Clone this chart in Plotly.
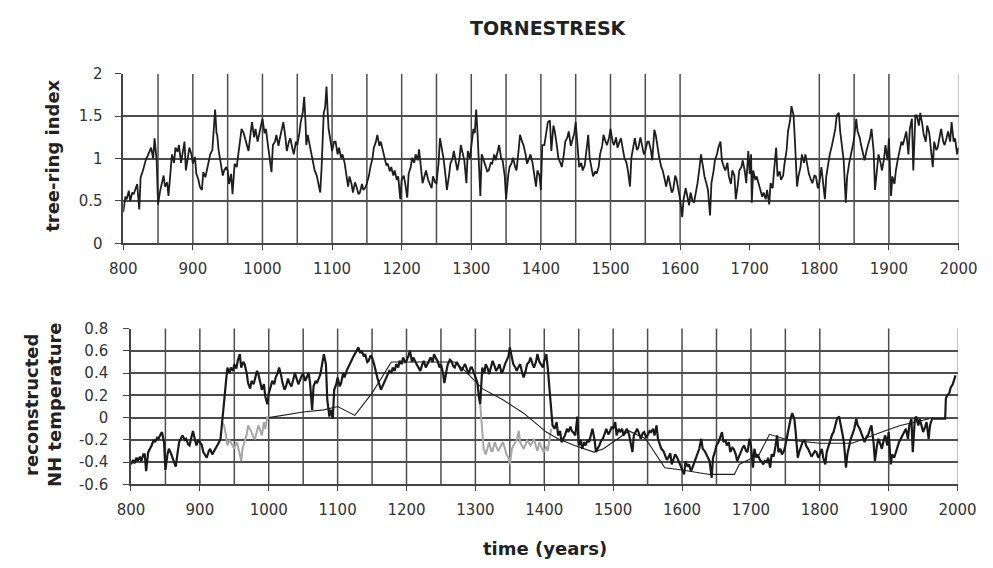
import plotly.graph_objects as go

# ---------------------------------------------------------------- data
# Tornetrask tree-ring index (annual chronology, read at ~2-3 year steps)
ring_years = [
    800, 803, 805, 808, 810, 813, 815, 818, 820, 823, 825, 828, 830, 833, 835, 838, 840, 843, 845, 848,
    850, 853, 855, 858, 860, 863, 865, 868, 870, 873, 875, 878, 880, 883, 885, 888, 890, 893, 895, 898,
    900, 903, 905, 908, 910, 913, 915, 918, 920, 923, 925, 928, 930, 932, 934, 935, 937, 940, 943, 945,
    948, 950, 952, 955, 957, 960, 963, 965, 968, 970, 973, 975, 978, 980, 983, 985, 988, 990, 993, 995, 998,
    1000, 1003, 1005, 1008, 1010, 1013, 1015, 1018, 1020, 1023, 1025, 1028, 1030, 1033, 1035, 1038, 1040,
    1043, 1045, 1048, 1050, 1053, 1055, 1058, 1060, 1062, 1063, 1065, 1068, 1070, 1073, 1075, 1078, 1080,
    1083, 1085, 1088, 1090, 1092, 1094, 1095, 1098,
    1100, 1103, 1105, 1108, 1110, 1113, 1115, 1118, 1120, 1123, 1125, 1128, 1130, 1133, 1135, 1138, 1140,
    1143, 1145, 1148, 1150, 1153, 1155, 1158, 1160, 1163, 1165, 1168, 1170, 1173, 1175, 1178, 1180, 1183,
    1185, 1188, 1190, 1193, 1195, 1198,
    1200, 1203, 1205, 1208, 1210, 1213, 1215, 1218, 1220, 1223, 1225, 1228, 1230, 1233, 1235, 1238, 1240,
    1243, 1245, 1248, 1250, 1253, 1255, 1258, 1260, 1263, 1265, 1268, 1270, 1273, 1275, 1278, 1280, 1283,
    1285, 1288, 1290, 1293, 1295, 1298,
    1300, 1303, 1305, 1307, 1309, 1310, 1313, 1315, 1318, 1320, 1323, 1325, 1328, 1330, 1333, 1335, 1338,
    1340, 1343, 1345, 1348, 1350, 1353, 1355, 1358, 1360, 1363, 1365, 1368, 1370, 1373, 1375, 1378, 1380,
    1383, 1385, 1388, 1390, 1393, 1395, 1398,
    1400, 1402, 1405, 1408, 1410, 1413, 1415, 1418, 1420, 1423, 1425, 1428, 1430, 1433, 1435, 1438, 1440,
    1443, 1445, 1448, 1450, 1453, 1455, 1458, 1460, 1463, 1465, 1468, 1470, 1473, 1475, 1478, 1480, 1483,
    1485, 1488, 1490, 1493, 1495, 1498,
    1500, 1503, 1505, 1508, 1510, 1513, 1515, 1518, 1520, 1523, 1525, 1528, 1530, 1533, 1535, 1538, 1540,
    1543, 1545, 1548, 1550, 1553, 1555, 1558, 1560, 1563, 1565, 1568, 1570, 1573, 1575, 1578, 1580, 1583,
    1585, 1588, 1590, 1593, 1595, 1598,
    1600, 1603, 1605, 1608, 1610, 1613, 1615, 1618, 1620, 1623, 1625, 1628, 1630, 1633, 1635, 1638, 1640,
    1643, 1645, 1648, 1650, 1653, 1655, 1658, 1660, 1663, 1665, 1668, 1670, 1673, 1675, 1678, 1680, 1683,
    1685, 1688, 1690, 1693, 1695, 1698,
    1700, 1702, 1703, 1705, 1708, 1710, 1713, 1715, 1718, 1720, 1723, 1725, 1728, 1730, 1733, 1735, 1738,
    1740, 1743, 1745, 1748, 1750, 1753, 1755, 1758, 1760, 1763, 1765, 1768, 1770, 1773, 1775, 1778, 1780,
    1783, 1785, 1788, 1790, 1793, 1795, 1798,
    1800, 1803, 1805, 1808, 1810, 1813, 1815, 1818, 1820, 1823, 1825, 1828, 1830, 1833, 1835, 1838, 1840,
    1843, 1845, 1848, 1850, 1853, 1855, 1858, 1860, 1863, 1865, 1868, 1870, 1873, 1875, 1878, 1880, 1883,
    1885, 1888, 1890, 1893, 1895, 1898,
    1900, 1903, 1905, 1908, 1910, 1913, 1915, 1918, 1920, 1923, 1925, 1928, 1930, 1933, 1935, 1938, 1940,
    1943, 1945, 1948, 1950, 1953, 1955, 1958, 1960, 1963, 1965, 1968, 1970, 1973, 1975, 1978, 1980, 1983,
    1985, 1988, 1990, 1993, 1995, 1998, 2000,
]
ring_index = [
    0.37, 0.55, 0.52, 0.62, 0.50, 0.60, 0.58, 0.66, 0.70, 0.40, 0.78, 0.85, 0.92, 1.00, 1.03, 1.08, 1.13, 1.00, 1.24, 0.98,
    0.46, 0.62, 0.71, 0.80, 0.67, 0.72, 0.56, 0.85, 1.05, 0.95, 1.13, 1.08, 1.16, 0.95, 1.05, 1.20, 0.86, 1.00, 1.13, 1.05,
    0.94, 1.02, 0.82, 0.75, 0.67, 0.63, 0.84, 0.78, 0.86, 0.95, 1.05, 1.10, 1.35, 1.58, 1.30, 1.28, 1.10, 0.94, 0.80, 0.86,
    0.90, 0.86, 0.70, 0.82, 0.58, 0.94, 0.90, 1.03, 1.20, 1.35, 1.30, 1.24, 1.15, 1.09, 1.30, 1.43, 1.25, 1.35, 1.20, 1.28, 1.40,
    1.47, 1.30, 1.35, 1.15, 1.01, 0.84, 1.16, 1.20, 1.28, 1.15, 1.24, 1.35, 1.43, 1.25, 1.09, 1.20, 1.24,
    1.12, 1.05, 1.20, 1.16, 1.30, 1.43, 1.55, 1.73, 1.40, 1.16, 1.28, 1.15, 1.09, 0.95, 0.86, 0.80, 0.71,
    0.60, 0.90, 1.54, 1.60, 1.85, 1.50, 1.35, 1.20,
    1.09, 1.20, 1.20, 1.05, 1.13, 1.01, 1.05, 0.95, 0.82, 0.67, 0.79, 0.70, 0.60, 0.72, 0.67, 0.58, 0.60,
    0.70, 0.63, 0.66, 0.71, 0.80, 0.90, 1.00, 1.13, 1.20, 1.28, 1.15, 1.20, 1.10, 1.05, 0.92, 0.94, 0.85,
    0.90, 0.80, 0.86, 0.75, 0.79, 0.52,
    0.75, 0.80, 0.71, 0.54, 0.82, 0.90, 1.01, 0.95, 1.05, 0.98, 1.11, 0.90, 0.71, 0.80, 0.86, 0.75, 0.71,
    0.65, 0.79, 0.72, 0.71, 0.95, 1.24, 1.10, 1.01, 0.80, 0.63, 0.80, 0.94, 1.00, 1.09, 0.95, 0.86, 1.00,
    1.16, 1.05, 0.98, 0.71, 1.09, 1.00,
    1.16, 1.35, 1.30, 1.58, 1.30, 1.13, 0.56, 1.05, 0.98, 0.94, 0.85, 0.86, 0.95, 0.94, 1.05, 0.98, 1.10,
    1.16, 1.00, 0.98, 0.80, 0.52, 0.80, 0.90, 0.95, 1.01, 0.90, 0.86, 1.10, 1.28, 1.20, 1.16, 1.05, 0.94,
    1.00, 1.05, 0.95, 0.82, 0.67, 0.86, 0.80,
    0.63, 1.16, 1.16, 1.30, 1.43, 1.45, 1.09, 1.39, 1.32, 1.15, 1.01, 0.95, 0.90, 1.05, 1.20, 1.25, 1.32,
    1.15, 1.20, 1.30, 1.43, 1.09, 0.90, 0.95, 0.86, 0.92, 1.05, 1.28, 1.01, 0.90, 0.79, 0.85, 0.82, 0.90,
    1.05, 1.15, 1.28, 1.20, 1.16, 1.25,
    1.35, 1.20, 1.16, 1.25, 1.13, 1.20, 1.24, 1.10, 1.01, 0.95, 0.86, 0.67, 1.01, 1.15, 1.24, 1.10, 1.13,
    1.25, 1.16, 1.05, 1.09, 1.20, 1.20, 1.10, 0.98, 1.34, 1.28, 1.10, 1.01, 0.90, 0.86, 0.75, 0.67, 0.80,
    0.71, 0.60, 0.63, 0.80, 0.75, 0.60,
    0.52, 0.31, 0.52, 0.65, 0.56, 0.45, 0.60, 0.50, 0.48, 0.60, 0.71, 0.90, 1.05, 0.90, 0.79, 0.70, 0.63,
    0.33, 0.71, 0.85, 0.98, 1.05, 1.13, 1.20, 0.98, 0.90, 0.86, 0.95, 0.79, 0.70, 0.86, 0.80, 0.52, 0.70,
    0.86, 0.90, 0.98, 0.85, 0.71, 1.09,
    0.82, 1.05, 0.48, 0.86, 0.75, 0.79, 0.70, 0.63, 0.55, 0.60, 0.52, 0.63, 0.46, 0.71, 0.65, 0.86, 1.13,
    0.79, 0.85, 0.75, 0.80, 0.94, 1.10, 1.32, 1.45, 1.62, 1.51, 1.20, 0.67, 0.79, 0.90, 1.05, 0.95, 1.05,
    0.90, 0.82, 0.75, 0.71, 0.80, 0.79, 0.65,
    0.71, 0.90, 0.71, 0.52, 0.79, 0.95, 1.05, 1.15, 1.24, 1.35, 1.51, 1.54, 1.32, 1.10, 0.98, 0.48, 0.79,
    0.95, 1.05, 1.15, 1.24, 1.47, 1.32, 1.25, 1.16, 1.05, 0.98, 1.10, 1.16, 1.25, 1.35, 1.09, 0.63, 0.90,
    1.05, 0.95, 0.86, 1.00, 1.16, 0.98,
    1.24, 0.56, 0.79, 0.70, 0.86, 1.00, 1.09, 1.20, 1.16, 1.25, 1.32, 1.05, 1.35, 1.47, 0.86, 1.51, 1.51,
    1.39, 1.54, 1.40, 1.28, 1.20, 1.39, 1.30, 1.16, 0.90, 1.20, 1.10, 1.13, 1.25, 1.35, 1.20, 1.16, 1.25,
    1.32, 1.20, 1.43, 1.20, 1.24, 1.05, 1.13,
]

# Reconstructed NH temperature from the chronology (thick black)
temp_years = [
    800, 803, 805, 808, 810, 813, 815, 818, 820, 822, 825, 828, 830, 833, 835, 838, 840, 843, 845, 848,
    850, 853, 855, 858, 860, 863, 865, 868, 870, 873, 875, 878, 880, 883, 885, 888, 890, 893, 895, 898,
    900, 903, 905, 908, 910, 913, 915, 918, 920, 923, 925, 928, 930, 932, 935, 938, 940, 943, 945, 948,
    950, 953, 955, 958, 960, 963, 965, 968, 970, 973, 975, 978, 980, 983, 985, 988, 990, 993, 995, 998,
    1000, 1003, 1005, 1008, 1010, 1013, 1015, 1018, 1020, 1023, 1025, 1028, 1030, 1033, 1035, 1038, 1040,
    1043, 1045, 1048, 1050, 1053, 1055, 1058, 1060, 1063, 1065, 1068, 1070, 1073, 1075, 1078, 1080, 1083,
    1085, 1088, 1090, 1093, 1095, 1098,
    1100, 1103, 1105, 1108, 1110, 1113, 1115, 1118, 1120, 1123, 1125, 1128, 1130, 1133, 1135, 1138, 1140,
    1143, 1145, 1148, 1150, 1153, 1155, 1158, 1160, 1163, 1165, 1168, 1170, 1173, 1175, 1178, 1180, 1183,
    1185, 1188, 1190, 1193, 1195, 1198,
    1200, 1203, 1205, 1208, 1210, 1213, 1215, 1218, 1220, 1223, 1225, 1228, 1230, 1233, 1235, 1238, 1240,
    1243, 1245, 1248, 1250, 1253, 1255, 1258, 1260, 1263, 1265, 1268, 1270, 1273, 1275, 1278, 1280, 1283,
    1285, 1288, 1290, 1293, 1295, 1298,
    1300, 1303, 1305, 1307, 1310, 1313, 1315, 1318, 1320, 1323, 1325, 1328, 1330, 1333, 1335, 1338, 1340,
    1343, 1345, 1348, 1350, 1353, 1355, 1358, 1360, 1363, 1365, 1368, 1370, 1373, 1375, 1378, 1380, 1383,
    1385, 1388, 1390, 1393, 1395, 1398,
    1400, 1403, 1405, 1408, 1410, 1412, 1415, 1418, 1420, 1423, 1425, 1428, 1430, 1433, 1435, 1438, 1440,
    1443, 1445, 1448, 1450, 1453, 1455, 1458, 1460, 1463, 1465, 1468, 1470, 1473, 1475, 1478, 1480, 1483,
    1485, 1488, 1490, 1493, 1495, 1498,
    1500, 1503, 1505, 1508, 1510, 1513, 1515, 1518, 1520, 1523, 1525, 1528, 1530, 1533, 1535, 1538, 1540,
    1543, 1545, 1548, 1550, 1553, 1555, 1558, 1560, 1563, 1565, 1568, 1570, 1573, 1575, 1578, 1580, 1583,
    1585, 1588, 1590, 1593, 1595, 1598,
    1600, 1603, 1605, 1608, 1610, 1613, 1615, 1618, 1620, 1623, 1625, 1628, 1630, 1633, 1635, 1638, 1640,
    1643, 1645, 1648, 1650, 1653, 1655, 1658, 1660, 1663, 1665, 1668, 1670, 1673, 1675, 1678, 1680, 1683,
    1685, 1688, 1690, 1693, 1695, 1698,
    1700, 1703, 1705, 1708, 1710, 1713, 1715, 1718, 1720, 1723, 1725, 1728, 1730, 1733, 1735, 1738, 1740,
    1743, 1745, 1748, 1750, 1753, 1755, 1758, 1760, 1763, 1765, 1768, 1770, 1773, 1775, 1778, 1780, 1783,
    1785, 1788, 1790, 1793, 1795, 1798,
    1800, 1803, 1805, 1808, 1810, 1813, 1815, 1818, 1820, 1823, 1825, 1828, 1830, 1833, 1835, 1838, 1840,
    1843, 1845, 1848, 1850, 1853, 1855, 1858, 1860, 1863, 1865, 1868, 1870, 1873, 1875, 1878, 1880, 1883,
    1885, 1888, 1890, 1893, 1895, 1898,
    1900, 1903, 1905, 1908, 1910, 1913, 1915, 1918, 1920, 1923, 1925, 1928, 1930, 1933, 1935, 1938, 1940,
    1943, 1945, 1948, 1950, 1953, 1955, 1958, 1960, 1963, 1970, 1982, 1983, 1985, 1988, 1990, 1993, 1996, 1997,
]
temp_values = [
    -0.42, -0.38, -0.41, -0.36, -0.39, -0.35, -0.39, -0.33, -0.33, -0.48, -0.31, -0.28, -0.25, -0.20, -0.22, -0.18, -0.19, -0.15, -0.13, -0.22,
    -0.47, -0.33, -0.28, -0.32, -0.36, -0.40, -0.44, -0.30, -0.22, -0.18, -0.16, -0.20, -0.19, -0.24, -0.25, -0.17, -0.12, -0.20, -0.25, -0.20,
    -0.22, -0.25, -0.31, -0.34, -0.36, -0.30, -0.28, -0.33, -0.31, -0.27, -0.25, -0.22, -0.19, -0.04, 0.13, 0.33, 0.45, 0.40, 0.45, 0.42,
    0.48, 0.44, 0.51, 0.57, 0.45, 0.50, 0.48, 0.40, 0.31, 0.26, 0.33, 0.30, 0.36, 0.42, 0.39, 0.30, 0.25, 0.30, 0.19, 0.12,
    0.22, 0.28, 0.33, 0.30, 0.36, 0.40, 0.45, 0.38, 0.31, 0.25, 0.28, 0.35, 0.31, 0.28, 0.33, 0.40, 0.36,
    0.30, 0.33, 0.38, 0.39, 0.33, 0.36, 0.40, 0.31, 0.07, 0.28, 0.33, 0.31, 0.36, 0.39, 0.50, 0.57, 0.48,
    0.16, 0.01, 0.07, -0.01, 0.25, 0.30,
    0.36, 0.28, 0.31, 0.40, 0.36, 0.42, 0.45, 0.48, 0.51, 0.55, 0.57, 0.60, 0.63, 0.58, 0.60, 0.55, 0.57,
    0.50, 0.51, 0.56, 0.54, 0.48, 0.42, 0.35, 0.31, 0.25, 0.28, 0.32, 0.36, 0.40, 0.42, 0.40, 0.45, 0.42,
    0.48, 0.45, 0.51, 0.48, 0.54, 0.50,
    0.51, 0.56, 0.60, 0.50, 0.54, 0.50, 0.48, 0.44, 0.42, 0.48, 0.51, 0.45, 0.48, 0.52, 0.54, 0.50, 0.57,
    0.53, 0.51, 0.45, 0.48, 0.40, 0.31, 0.42, 0.48, 0.52, 0.51, 0.46, 0.45, 0.50, 0.48, 0.44, 0.42, 0.46,
    0.48, 0.43, 0.39, 0.45, 0.45, 0.40,
    0.36, 0.31, 0.19, 0.12, 0.45, 0.40, 0.48, 0.44, 0.39, 0.45, 0.51, 0.46, 0.42, 0.45, 0.48, 0.40, 0.42,
    0.48, 0.51, 0.55, 0.63, 0.52, 0.48, 0.45, 0.42, 0.46, 0.48, 0.40, 0.36, 0.42, 0.48, 0.50, 0.54, 0.48,
    0.45, 0.50, 0.57, 0.50, 0.48, 0.45,
    0.51, 0.57, 0.45, 0.25, 0.13, -0.07, -0.10, -0.04, -0.16, -0.12, -0.22, -0.18, -0.16, -0.10, -0.13, -0.08, -0.12,
    -0.14, -0.16, 0.01, -0.25, -0.20, -0.28, -0.22, -0.25, -0.20, -0.22, -0.15, -0.10, -0.20, -0.31, -0.27, -0.25, -0.20,
    -0.19, -0.14, -0.10, -0.15, -0.13, -0.08,
    -0.10, -0.04, -0.16, -0.10, -0.13, -0.10, -0.16, -0.12, -0.10, -0.15, -0.22, -0.31, -0.16, -0.12, -0.10, -0.15, -0.19,
    -0.14, -0.13, -0.18, -0.16, -0.12, -0.13, -0.10, -0.16, -0.07, -0.19, -0.24, -0.28, -0.30, -0.33, -0.38, -0.36, -0.32,
    -0.42, -0.37, -0.33, -0.36, -0.39, -0.42,
    -0.45, -0.51, -0.39, -0.44, -0.42, -0.48, -0.45, -0.40, -0.36, -0.32, -0.28, -0.19, -0.28, -0.30, -0.33, -0.36, -0.39,
    -0.54, -0.36, -0.30, -0.25, -0.22, -0.19, -0.13, -0.22, -0.20, -0.25, -0.22, -0.31, -0.27, -0.28, -0.33, -0.39, -0.34,
    -0.31, -0.27, -0.25, -0.30, -0.31, -0.19,
    -0.25, -0.45, -0.28, -0.36, -0.33, -0.38, -0.39, -0.42, -0.39, -0.40, -0.36, -0.45, -0.33, -0.35, -0.28, -0.16, -0.31,
    -0.28, -0.33, -0.30, -0.25, -0.15, -0.07, 0.00, 0.04, -0.01, -0.13, -0.36, -0.31, -0.26, -0.22, -0.20, -0.25, -0.28,
    -0.31, -0.35, -0.33, -0.30, -0.31, -0.36,
    -0.33, -0.28, -0.36, -0.42, -0.31, -0.25, -0.19, -0.15, -0.13, -0.07, -0.01, 0.01, -0.07, -0.15, -0.22, -0.45, -0.33,
    -0.25, -0.19, -0.14, -0.10, -0.01, -0.07, -0.10, -0.13, -0.18, -0.22, -0.17, -0.16, -0.10, -0.07, -0.22, -0.39, -0.25,
    -0.19, -0.24, -0.28, -0.20, -0.16, -0.25,
    -0.13, -0.42, -0.33, -0.36, -0.31, -0.26, -0.22, -0.18, -0.16, -0.12, -0.10, -0.19, -0.07, -0.01, -0.31, -0.01, 0.01,
    -0.07, -0.01, -0.08, -0.13, -0.08, -0.04, -0.19, -0.07, -0.01, -0.01, -0.01, 0.17, 0.20, 0.22, 0.27, 0.30, 0.38, 0.38,
]

# Alternative reconstruction over the two warm intervals (grey)
alt_years = [
    932, 935, 938, 940, 943, 945, 948, 950, 953, 955, 958, 960, 962, 965, 968, 970, 973, 975, 978, 980,
    983, 985, 988, 990, 993, 995, 998, 1000,
    None,
    1307, 1310, 1312, 1315, 1318, 1320, 1323, 1325, 1328, 1330, 1333, 1335, 1338, 1340, 1343, 1345, 1348,
    1350, 1353, 1355, 1358, 1360, 1363, 1365, 1368, 1370, 1373, 1375, 1378, 1380, 1383, 1385, 1388, 1390,
    1393, 1395, 1398, 1400, 1403, 1405, 1408, 1410,
]
alt_values = [
    -0.04, -0.07, -0.16, -0.25, -0.20, -0.22, -0.25, -0.28, -0.22, -0.25, -0.33, -0.39, -0.28, -0.22, -0.15, -0.07, -0.10, -0.13, -0.18, -0.19,
    -0.12, -0.07, -0.12, -0.16, -0.04, -0.10, 0.01, -0.01,
    None,
    0.12, -0.16, -0.28, -0.33, -0.25, -0.22, -0.30, -0.30, -0.22, -0.25, -0.30, -0.28, -0.24, -0.22, -0.28, -0.33, -0.36,
    -0.42, -0.28, -0.25, -0.22, -0.20, -0.12, -0.22, -0.26, -0.28, -0.24, -0.20, -0.23, -0.25, -0.22, -0.19, -0.26, -0.30,
    -0.22, -0.25, -0.30, -0.30, -0.26, -0.30, -0.20, -0.10,
]

# Documentary / multi-proxy NH temperature curve (thin black)
ref_years = [
    1000, 1050, 1080, 1100, 1125, 1150, 1178, 1200, 1240, 1270, 1285, 1310, 1340, 1370, 1403, 1420, 1444,
    1472, 1486, 1523, 1547, 1575, 1600, 1640, 1650, 1676, 1683, 1712, 1727, 1754, 1800, 1847, 1894, 1917, 1959,
]
ref_values = [
    0.00, 0.05, 0.07, 0.10, 0.02, 0.22, 0.50, 0.50, 0.50, 0.50, 0.42, 0.26, 0.16, 0.04, -0.13, -0.19, -0.25,
    -0.31, -0.28, -0.12, -0.19, -0.45, -0.47, -0.51, -0.51, -0.51, -0.42, -0.33, -0.15, -0.20, -0.23, -0.23, -0.12, -0.07, -0.01,
]

# Axis ticks and grid positions
year_ticks = [800, 900, 1000, 1100, 1200, 1300, 1400, 1500, 1600, 1700, 1800, 1900, 2000]
year_labels = [str(y) for y in year_ticks]
ring_ticks = [0, 0.5, 1, 1.5, 2]
ring_labels = ["0", "0.5", "1", "1.5", "2"]
temp_ticks = [-0.6, -0.4, -0.2, 0, 0.2, 0.4, 0.6, 0.8]
temp_labels = ["-0.6", "-0.4", "-0.2", "0", "0.2", "0.4", "0.6", "0.8"]
ring_grid_years = [850, 900, 950, 1000, 1050, 1100, 1150, 1200, 1250, 1300, 1350, 1400,
                   1450, 1500, 1550, 1600, 1800, 1850, 1900]
temp_grid_years = [850, 900, 950, 1000, 1050, 1100, 1150, 1200, 1250, 1300, 1350, 1400,
                   1450, 1500, 1550, 1600, 1650, 1700, 1750, 1800, 1900]

# ---------------------------------------------------------------- figure
W, H = 993, 568
FONT = "DejaVu Sans"
INK = "#222222"
GRID = "#4d4d4d"

fig = go.Figure()

fig.add_trace(go.Scatter(x=ring_years, y=ring_index, mode="lines",
                         line=dict(color="#1e1e1e", width=1.8),
                         xaxis="x", yaxis="y", showlegend=False, hoverinfo="skip"))
fig.add_trace(go.Scatter(x=alt_years, y=alt_values, mode="lines",
                         line=dict(color="#a6a6a6", width=2.0),
                         xaxis="x2", yaxis="y2", showlegend=False, hoverinfo="skip"))
fig.add_trace(go.Scatter(x=ref_years, y=ref_values, mode="lines",
                         line=dict(color="#1e1e1e", width=1.1),
                         xaxis="x2", yaxis="y2", showlegend=False, hoverinfo="skip"))
fig.add_trace(go.Scatter(x=temp_years, y=temp_values, mode="lines",
                         line=dict(color="#1a1a1a", width=2.2),
                         xaxis="x2", yaxis="y2", showlegend=False, hoverinfo="skip"))

# panel boxes in pixels
top_box = dict(l=113, r=977, t=67, b=242)
bot_box = dict(l=121, r=976, t=330, b=491)


def dom_x(box):
    return [box["l"] / W, box["r"] / W]


def dom_y(box):
    return [1 - box["b"] / H, 1 - box["t"] / H]


tick_font = dict(family=FONT, size=15, color="#333333")
common_x = dict(range=[800, 2000], tickmode="array", tickvals=year_ticks, ticktext=year_labels,
                ticks="outside", ticklen=5, tickwidth=1.2, tickcolor="#444444",
                showgrid=False, zeroline=False, showline=True, linecolor="#444444", linewidth=1.5,
                tickfont=tick_font, ticklabelstandoff=6, ticklabeloverflow="allow",
                fixedrange=True)
common_y = dict(tickmode="array", ticks="outside", ticklen=6, tickwidth=1.2, tickcolor="#444444",
                showgrid=True, gridcolor=GRID, gridwidth=1.5, zeroline=False,
                showline=True, linecolor="#444444", linewidth=1.5,
                tickfont=tick_font, fixedrange=True)

fig.update_layout(
    width=W, height=H,
    margin=dict(l=0, r=0, t=0, b=0),
    paper_bgcolor="white", plot_bgcolor="white",
    xaxis=dict(domain=dom_x(top_box), anchor="y", **common_x),
    yaxis=dict(domain=dom_y(top_box), anchor="x", range=[0, 2],
               tickvals=ring_ticks, ticktext=ring_labels, ticklabelstandoff=10, **common_y),
    xaxis2=dict(domain=dom_x(bot_box), anchor="y2", **common_x),
    yaxis2=dict(domain=dom_y(bot_box), anchor="x2", range=[-0.6, 0.8],
                tickvals=temp_ticks, ticktext=temp_labels, ticklabelstandoff=12, **common_y),
)

# vertical grid lines (drawn individually) and right-hand frame
shapes = []
for yr in ring_grid_years:
    shapes.append(dict(type="line", xref="x", yref="y domain", x0=yr, x1=yr, y0=0, y1=1,
                       line=dict(color=GRID, width=1.5), layer="below"))
for yr in temp_grid_years:
    shapes.append(dict(type="line", xref="x2", yref="y2 domain", x0=yr, x1=yr, y0=0, y1=1,
                       line=dict(color=GRID, width=1.5), layer="below"))
shapes.append(dict(type="line", xref="x", yref="y domain", x0=2000, x1=2000, y0=0, y1=1,
                   line=dict(color="#9a9a9a", width=1.2), layer="below"))
shapes.append(dict(type="line", xref="x2", yref="y2 domain", x0=2000, x1=2000, y0=0, y1=1,
                   line=dict(color="#9a9a9a", width=1.2), layer="below"))
fig.update_layout(shapes=shapes)

title_font = dict(family=FONT, size=18, color=INK, weight="bold")
fig.add_annotation(text="TORNESTRESK", x=553 / W, y=1 - 20 / H, xref="paper", yref="paper",
                   showarrow=False, font=dict(family=FONT, size=19, color=INK, weight="bold"),
                   xanchor="center", yanchor="middle")
fig.add_annotation(text="tree-ring index", x=40 / W, y=1 - 152 / H, xref="paper", yref="paper",
                   showarrow=False, textangle=-90, font=title_font,
                   xanchor="center", yanchor="middle")
fig.add_annotation(text="reconstructed<br>NH temperature", x=30 / W, y=1 - 409 / H,
                   xref="paper", yref="paper", showarrow=False, textangle=-90, font=title_font,
                   xanchor="center", yanchor="middle")
fig.add_annotation(text="time (years)", x=549 / W, y=1 - 557 / H, xref="paper", yref="paper",
                   showarrow=False, font=title_font, xanchor="center", yanchor="middle")

fig.write_html("out.html")
